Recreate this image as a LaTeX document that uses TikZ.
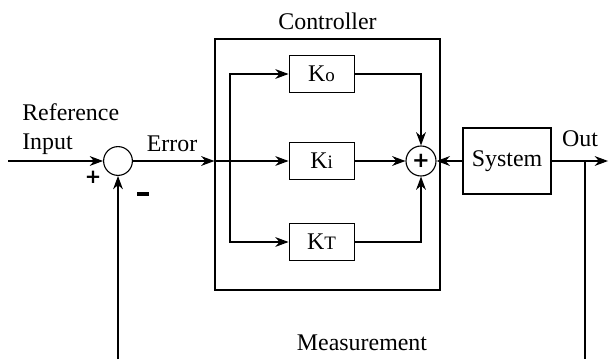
\documentclass[tikz,border=0pt]{standalone}
\usepackage{fontspec}
\setmainfont{Liberation Serif}
\newfontfamily\signfont{DejaVu Sans}
\usetikzlibrary{arrows.meta}

\tikzset{
	lbl/.style={black, font=\fontsize{17}{21}\selectfont, inner sep=0pt},
	signlbl/.style={black, font=\signfont\bfseries\fontsize{14}{14}\selectfont, inner sep=0pt},
	gainbox/.style={draw=black, line width=0.8pt, minimum width=1.625cm, minimum height=0.925cm, inner sep=0pt, font=\fontsize{17}{21}\selectfont},
	sumnode/.style={draw=black, circle, line width=0.8pt, inner sep=0pt},
	flow/.style={draw=black, line width=0.8pt, -{Stealth[length=9.5pt,width=7pt]}},
	wire/.style={draw=black, line width=0.8pt},
}
\newcommand{\lowsub}[1]{{\fontsize{13.5}{14}\selectfont #1}}

\begin{document}
\begin{tikzpicture}
		\useasboundingbox (0.00,0.00) rectangle (15.225,8.975);
		\node[sumnode, minimum size=0.72cm] (cmp) at (2.95,4.95) {};
		\node[draw=black, line width=0.8pt, minimum width=5.625cm, minimum height=6.275cm, inner sep=0pt] (ctrl) at (8.1875,4.8625) {};
		\node[gainbox] (ko) at (8.04,7.125) {K\lowsub{o}};
		\node[gainbox] (ki) at (8.04,4.95) {K\lowsub{i}};
		\node[gainbox] (kt) at (8.04,2.925) {K\lowsub{T}};
		\node[sumnode, minimum size=0.75cm, signlbl, font=\signfont\bfseries\fontsize{15}{15}\selectfont] (sum) at (10.525,4.95) {+};
		\node[gainbox, minimum width=2.20cm, minimum height=1.65cm] (sys) at (12.675,4.95) {System};
		\coordinate (refin) at (0.20,4.95);
		\coordinate (ctrlin) at (ctrl.west |- cmp);
		\coordinate (split) at (5.75,4.95);
		\coordinate (out) at (15.20,4.95);
		\coordinate (tap) at (14.625,4.95);
		\coordinate (tapbot) at (14.625,0.00);
		\coordinate (fbbot) at (2.95,0.00);
		\draw[flow] (refin) -- (cmp);
		\draw[flow] (cmp) -- (ctrlin);
		\draw[flow] (ctrlin) -- (ki);
		\draw[flow] (split) |- (ko);
		\draw[flow] (split) |- (kt);
		\draw[flow] (ko) -| (sum);
		\draw[flow] (ki) -- (sum);
		\draw[flow] (kt) -| (sum);
		\draw[flow] (sys) -- (sum);
		\draw[flow] (sys) -- (out);
		\draw[wire] (tap) -- (tapbot);
		\draw[flow] (fbbot) -- (cmp);
		\node[lbl, align=left, anchor=base west] (reflbl) at (0.55,5.225) {Reference\\Input};
		\node[lbl, anchor=base] (errlbl) at (4.30,5.175) {Error};
		\node[lbl, anchor=base] (outlbl) at (14.50,5.30) {Out};
		\node[lbl, anchor=base] (ctrllbl) at (8.1875,8.225) {Controller};
		\node[lbl, anchor=base] (measlbl) at (9.05,0.225) {Measurement};
		\node[signlbl] (plus) at (2.325,4.55) {+};
		\node[black, fill=black, inner sep=0pt, minimum width=0.28cm, minimum height=0.08cm] (minus) at (3.575,4.125) {};
	\end{tikzpicture}
\end{document}
